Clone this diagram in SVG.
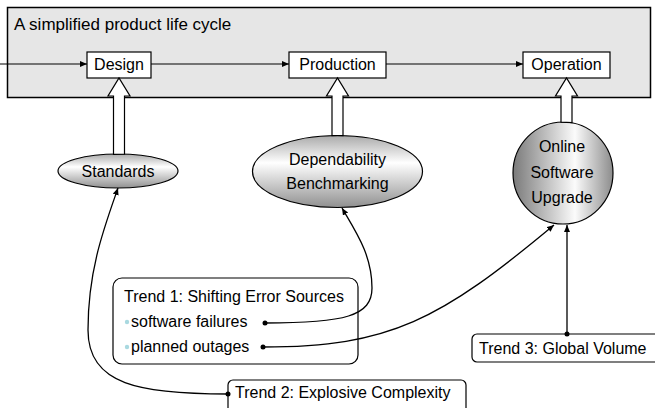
<svg xmlns="http://www.w3.org/2000/svg" width="655" height="408" viewBox="0 0 655 408">
  <style>
    text { font-family: "Liberation Sans", Arial, sans-serif; font-size: 16px; fill: #000; }
    .title { font-size: 17px; }
    .mid { text-anchor: middle; }
    .frame { fill: #e6e6e6; stroke: #000; stroke-width: 1.5; }
    .step { fill: #fff; stroke: #000; stroke-width: 1.2; }
    .trend { fill: #fff; stroke: #000; stroke-width: 1.2; }
    .flow { fill: none; stroke: #000; stroke-width: 1; marker-end: url(#tip); }
    .link { fill: none; stroke: #000; stroke-width: 1.3; marker-end: url(#tip); }
    .block { fill: #fff; stroke: #000; stroke-width: 1.2; stroke-linejoin: miter; }
    .oval { stroke: #000; stroke-width: 1.2; }
    .dot { fill: #000; }
    .bullet { fill: #a9d9e0; }
  </style>
  <defs>
    <marker id="tip" markerUnits="userSpaceOnUse" markerWidth="8" markerHeight="8" refX="7" refY="3" orient="auto">
      <path d="M0,0 L7,3 L0,6 Z" fill="#000"/>
    </marker>
    <linearGradient id="shadeV" x1="0" y1="0" x2="0" y2="1">
      <stop offset="0" stop-color="#aaaaaa"/>
      <stop offset="0.38" stop-color="#ffffff"/>
      <stop offset="1" stop-color="#909090"/>
    </linearGradient>
    <linearGradient id="shadeH" x1="0" y1="0" x2="1" y2="0">
      <stop offset="0" stop-color="#7a7a7a"/>
      <stop offset="0.62" stop-color="#fbfbfb"/>
      <stop offset="1" stop-color="#8c8c8c"/>
    </linearGradient>
  </defs>

  <!-- life-cycle frame -->
  <g id="lifecycle">
    <rect class="frame" x="7.5" y="7.5" width="643" height="90"/>
    <text class="title" x="14" y="30">A simplified product life cycle</text>
  </g>

  <g id="design">
    <rect class="step" x="87" y="52" width="64" height="26"/>
    <text class="mid" x="119" y="70">Design</text>
  </g>
  <g id="production">
    <rect class="step" x="289" y="52" width="97" height="26"/>
    <text class="mid" x="337.5" y="70">Production</text>
  </g>
  <g id="operation">
    <rect class="step" x="523" y="52" width="87" height="26"/>
    <text class="mid" x="566.5" y="70">Operation</text>
  </g>

  <g id="standards">
    <ellipse class="oval" cx="118" cy="171" rx="60" ry="17" fill="url(#shadeV)"/>
    <text class="mid" x="118" y="177">Standards</text>
  </g>
  <g id="benchmarking">
    <ellipse class="oval" cx="337.5" cy="171.5" rx="85" ry="36" fill="url(#shadeV)"/>
    <text class="mid" x="337.5" y="165">Dependability</text>
    <text class="mid" x="337.5" y="189">Benchmarking</text>
  </g>
  <g id="upgrade">
    <ellipse class="oval" cx="563" cy="173" rx="50" ry="51" fill="url(#shadeH)"/>
    <text class="mid" x="562" y="152">Online</text>
    <text class="mid" x="562" y="178">Software</text>
    <text class="mid" x="562" y="203">Upgrade</text>
  </g>

  <g id="trend1">
    <rect class="trend" x="113" y="278" width="245" height="86" rx="9"/>
    <text x="124" y="302">Trend 1: Shifting Error Sources</text>
    <circle class="bullet" cx="127" cy="322" r="2.2"/>
    <text x="131" y="327">software failures</text>
    <circle class="bullet" cx="127" cy="347" r="2.2"/>
    <text x="131" y="352">planned outages</text>
  </g>
  <g id="trend2">
    <rect class="trend" x="228" y="380" width="238" height="34" rx="5"/>
    <text x="235" y="398">Trend 2: Explosive Complexity</text>
  </g>
  <g id="trend3">
    <rect class="trend" x="472" y="334" width="192" height="28" rx="5"/>
    <text x="479" y="354">Trend 3: Global Volume</text>
  </g>

  <!-- connectors -->
  <g id="connectors">
    <path class="flow" d="M0,64 L87,64"/>
    <path class="flow" d="M151,64 L289,64"/>
    <path class="flow" d="M386,64 L523,64"/>

    <!-- hollow block arrows, shafts end on the ellipse outlines -->
    <polygon class="block" points="113.5,154.3 113.5,96 108,96 119,78 130,96 124.5,96 124.5,154.2"/>
    <polygon class="block" points="332,135.6 332,96 326.5,96 337.5,78 348.5,96 343,96 343,135.6"/>
    <polygon class="block" points="561,122.1 561,96 555.5,96 566.5,78 577.5,96 572,96 572,122.6"/>

    <path class="link" d="M228,394 C140,394 88,385 88,330 C88,270 104,228 118,188"/>
    <path class="link" d="M265,323 C345,323 372,316 372,288 C372,255 356,232 342,208"/>
    <path class="link" d="M263,347 C390,347 440,320 554,225"/>
    <path class="link" d="M567,334 L567,225"/>

    <circle class="dot" cx="228" cy="394" r="2.5"/>
    <circle class="dot" cx="265" cy="323" r="2.5"/>
    <circle class="dot" cx="263" cy="347" r="2.5"/>
    <circle class="dot" cx="567" cy="334" r="2.5"/>
  </g>
</svg>
